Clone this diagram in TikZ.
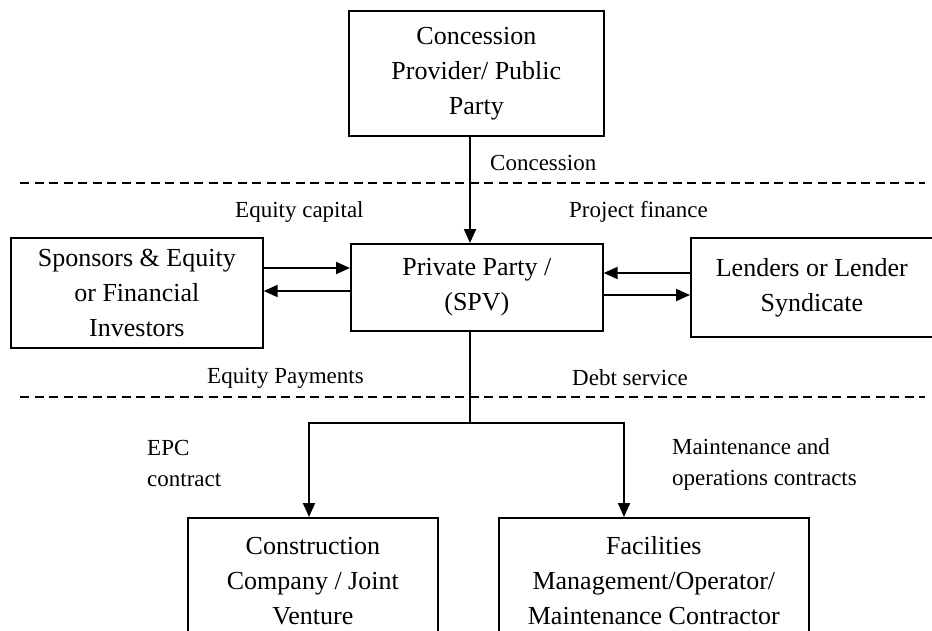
\documentclass[tikz,border=0pt]{standalone}
\usepackage{fontspec}
\setmainfont{Liberation Serif}
\usetikzlibrary{arrows.meta}
\begin{document}
\begin{tikzpicture}[x=1pt,y=-1pt,
  box/.style={draw,line width=1.7pt,rectangle,anchor=north west,align=center,
    font=\fontsize{26}{35}\selectfont,inner sep=0pt},
  lbl/.style={anchor=west,align=left,inner sep=0pt,font=\fontsize{23}{31}\selectfont},
  arr/.style={line width=2pt,-{Triangle[length=14pt,width=12pt]}},
  conn/.style={line width=2pt},
  sep/.style={line width=2pt,dash pattern=on 9pt off 5.5pt}]
\fill[white] (0,0) rectangle (932,630);
\useasboundingbox (0,0) rectangle (932,630);
\clip (0,0) rectangle (932,630);
% boxes
\node[box,minimum width=255pt,minimum height=125pt] (top) at (348,10) {Concession\\Provider/ Public\\Party};
\node[box,minimum width=252pt,minimum height=87pt] (spv) at (350,243) {Private Party /\\(SPV)};
\node[box,minimum width=252pt,minimum height=110pt] (spons) at (10,237) {Sponsors \& Equity\\or Financial\\Investors};
\node[box,minimum width=242pt,minimum height=99pt] (lend) at (690,237) {Lenders or Lender\\Syndicate};
\node[box,minimum width=250pt,minimum height=126pt] (cons) at (187,517) {Construction\\Company / Joint\\Venture};
\node[box,minimum width=310pt,minimum height=126pt] (fac) at (498,517) {Facilities\\Management/Operator/\\Maintenance Contractor};
% separators
\coordinate (s1a) at (20,183); \coordinate (s1b) at (925,183);
\coordinate (s2a) at (20,397); \coordinate (s2b) at (925,397);
\draw[sep] (s1a) -- (s1b);
\draw[sep] (s2a) -- (s2b);
% labels
\node[lbl] (lconc) at (490,163) {Concession};
\node[lbl] (leqc) at (235,212) {Equity capital};
\node[lbl] (lpf) at (569,212) {Project finance};
\node[lbl] (leqp) at (207,378) {Equity Payments};
\node[lbl] (ldebt) at (572,378) {Debt service};
\node[lbl] (lepc) at (147,463) {EPC\\contract};
\node[lbl] (lmnt) at (672,464) {Maintenance and\\operations contracts};
% connectors
\coordinate (vx) at (470,0);
\draw[arr] (top.south -| vx) -- (spv.north -| vx);
\coordinate (y1) at (0,268); \coordinate (y2) at (0,291);
\coordinate (y3) at (0,273); \coordinate (y4) at (0,295);
\draw[arr] (spons.east |- y1) -- (spv.west |- y1);
\draw[arr] (spv.west |- y2) -- (spons.east |- y2);
\draw[arr] (lend.west |- y3) -- (spv.east |- y3);
\draw[arr] (spv.east |- y4) -- (lend.west |- y4);
\coordinate (j) at (470,423);
\coordinate (cl) at (309,423);
\coordinate (cr) at (624,423);
\draw[conn] (spv.south -| j) -- (j);
\draw[arr] (j) -- (cl) -- (cl |- cons.north);
\draw[arr] (j) -- (cr) -- (cr |- fac.north);
\end{tikzpicture}
\end{document}
